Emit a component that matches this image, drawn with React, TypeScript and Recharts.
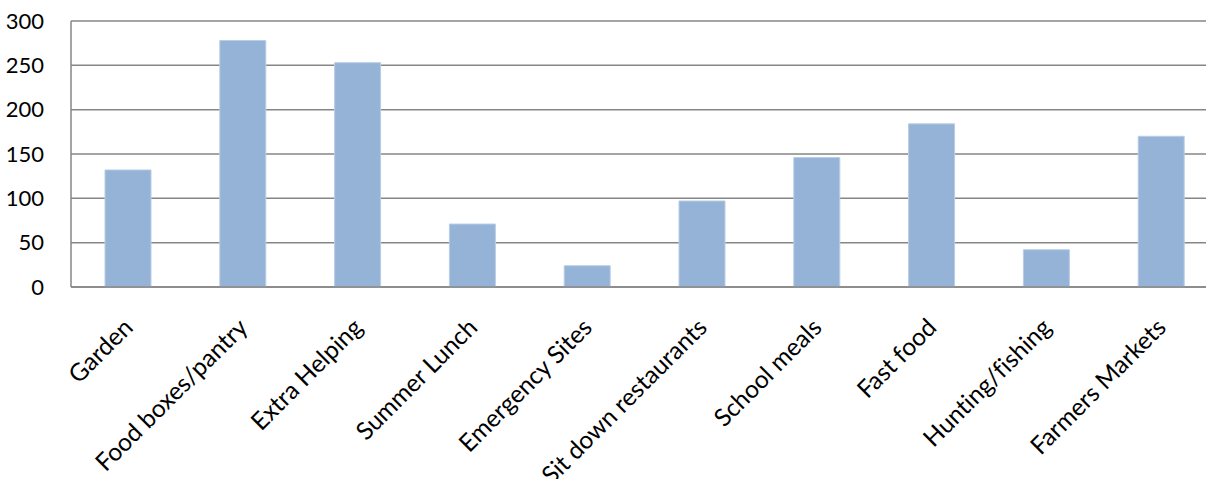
import { BarChart, Bar, XAxis, YAxis, CartesianGrid } from "recharts"

const categories = [
  "Garden",
  "Food boxes/pantry",
  "Extra Helping",
  "Summer Lunch",
  "Emergency Sites",
  "Sit down restaurants",
  "School meals",
  "Fast food",
  "Hunting/fishing",
  "Farmers Markets",
]

const counts = [132, 278, 253, 71, 24, 97, 146, 184, 42, 170]

const yTicks = [0, 50, 100, 150, 200, 250, 300]

const data = categories.map((name, i) => ({ name, value: counts[i] }))

const FONT = "Lato, 'Open Sans', sans-serif"
const GRID = "#868686"

// rotated category labels, right end sits just under the bar centre
const AngledTick = ({ x, y, payload }: any) => (
  <text
    x={x + 6}
    y={y + 34}
    transform={`rotate(-45, ${x + 6}, ${y + 34})`}
    textAnchor="end"
    fontFamily={FONT}
    fontSize={24.5}
    fill="#000"
    style={{ fontVariantLigatures: "none" }}
  >
    {payload.value}
  </text>
)

export default function App() {
  // plot runs a little past the right edge, like the original crop
  return (
    <div style={{ position: "absolute", left: 0, top: 0, width: 1206, height: 479, overflow: "hidden", background: "#fff" }}>
      <BarChart
        width={1219}
        height={479}
        data={data}
        margin={{ top: 21, right: 0, bottom: 0, left: 0 }}
      >
        <CartesianGrid vertical={false} stroke={GRID} strokeWidth={1.5} />
        <XAxis
          dataKey="name"
          interval={0}
          height={192}
          tickLine={false}
          axisLine={{ stroke: GRID, strokeWidth: 1.5 }}
          tick={<AngledTick />}
        />
        <YAxis
          domain={[0, 300]}
          ticks={yTicks}
          width={71}
          tickLine={false}
          tickSize={0}
          tickMargin={27}
          axisLine={{ stroke: GRID, strokeWidth: 1.5 }}
          tick={{ fontFamily: FONT, fontSize: 22, fill: "#000" }}
        />
        <Bar
          dataKey="value"
          fill="#95b3d7"
          stroke="#b9cde5"
          strokeWidth={1}
          barSize={46}
          isAnimationActive={false}
        />
      </BarChart>
    </div>
  )
}
